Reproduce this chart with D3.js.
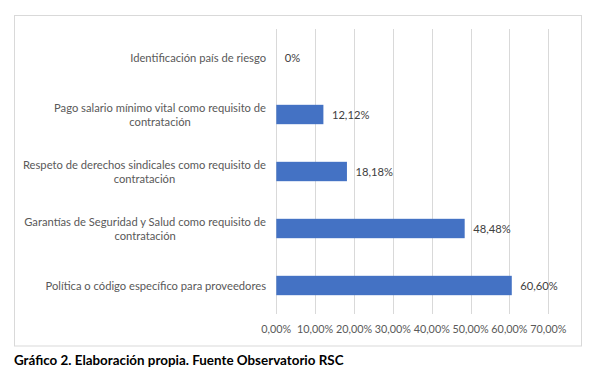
<!DOCTYPE html>
<html>
<head>
<meta charset="utf-8">
<script src="https://cdn.jsdelivr.net/npm/d3@7"></script>
<style>
  html, body { margin: 0; padding: 0; background: #fff; }
  svg { display: block; }
  text { font-family: Lato, "Liberation Sans", sans-serif; }
</style>
</head>
<body>
<svg id="chart" width="593" height="383"></svg>
<script>
const categories = [
  ["Identificación país de riesgo"],
  ["Pago salario mínimo vital como requisito de", "contratación"],
  ["Respeto de derechos sindicales como requisito de", "contratación"],
  ["Garantías de Seguridad y Salud como requisito de", "contratación"],
  ["Política o código específico para proveedores"]
];
const values = [0, 12.12, 18.18, 48.48, 60.60];
const tickValues = [0, 10, 20, 30, 40, 50, 60, 70];
const caption = "Gráfico 2. Elaboración propia. Fuente Observatorio RSC";

const svg = d3.select("#chart");
const locale = d3.formatLocale({decimal: ",", thousands: ".", grouping: [3], currency: ["", "€"]});
const fmt2 = locale.format(".2f");
const gray = "#595959";
const fs = 11.2;

// chart border
svg.append("rect").attr("x", 14.5).attr("y", 15.5).attr("width", 567).attr("height", 330.5)
  .attr("fill", "#fff").attr("stroke", "#d9d9d9").attr("stroke-width", 1);

const x = d3.scaleLinear().domain([0, 70]).range([276.3, 548.3]);
const y = d3.scaleBand().domain(d3.range(categories.length)).range([29, 314]).paddingInner(0.66).paddingOuter(0.33);

// gridlines
svg.append("g").selectAll("line").data(tickValues).join("line")
  .attr("x1", d => Math.round(x(d)) + 0.5).attr("x2", d => Math.round(x(d)) + 0.5)
  .attr("y1", 29).attr("y2", 314)
  .attr("stroke", "#d9d9d9").attr("stroke-width", 1);

// x tick labels
svg.append("g").selectAll("text").data(tickValues).join("text")
  .attr("x", d => x(d)).attr("y", 333)
  .attr("text-anchor", "middle").attr("font-size", 10.8).attr("fill", gray)
  .text(d => fmt2(d) + "%");

// bars
svg.append("g").selectAll("rect").data(values).join("rect")
  .attr("x", x(0)).attr("y", (d, i) => y(i))
  .attr("width", d => x(d) - x(0)).attr("height", y.bandwidth())
  .attr("fill", "#4472c4");

// value labels
svg.append("g").selectAll("text").data(values).join("text")
  .attr("x", d => x(d) + 8.5).attr("y", (d, i) => y(i) + y.bandwidth() / 2 + 4)
  .attr("font-size", fs).attr("fill", "#404040")
  .text(d => d === 0 ? "0%" : fmt2(d) + "%");

// category labels
const labelRight = 266;
const lineH = 14;
categories.forEach((lines, i) => {
  const cy = y(i) + y.bandwidth() / 2;
  const g = svg.append("g");
  const texts = lines.map((l, j) => g.append("text")
    .attr("font-size", fs).attr("fill", gray)
    .attr("text-anchor", "middle")
    .attr("y", cy + (j - (lines.length - 1) / 2) * lineH + 4)
    .text(l));
  const maxW = d3.max(texts, t => t.node().getComputedTextLength());
  texts.forEach(t => t.attr("x", labelRight - maxW / 2));
});

// caption
svg.append("text").attr("x", 14).attr("y", 365)
  .attr("font-size", 13.4).attr("font-weight", "bold").attr("fill", "#000")
  .text(caption);
</script>
</body>
</html>
